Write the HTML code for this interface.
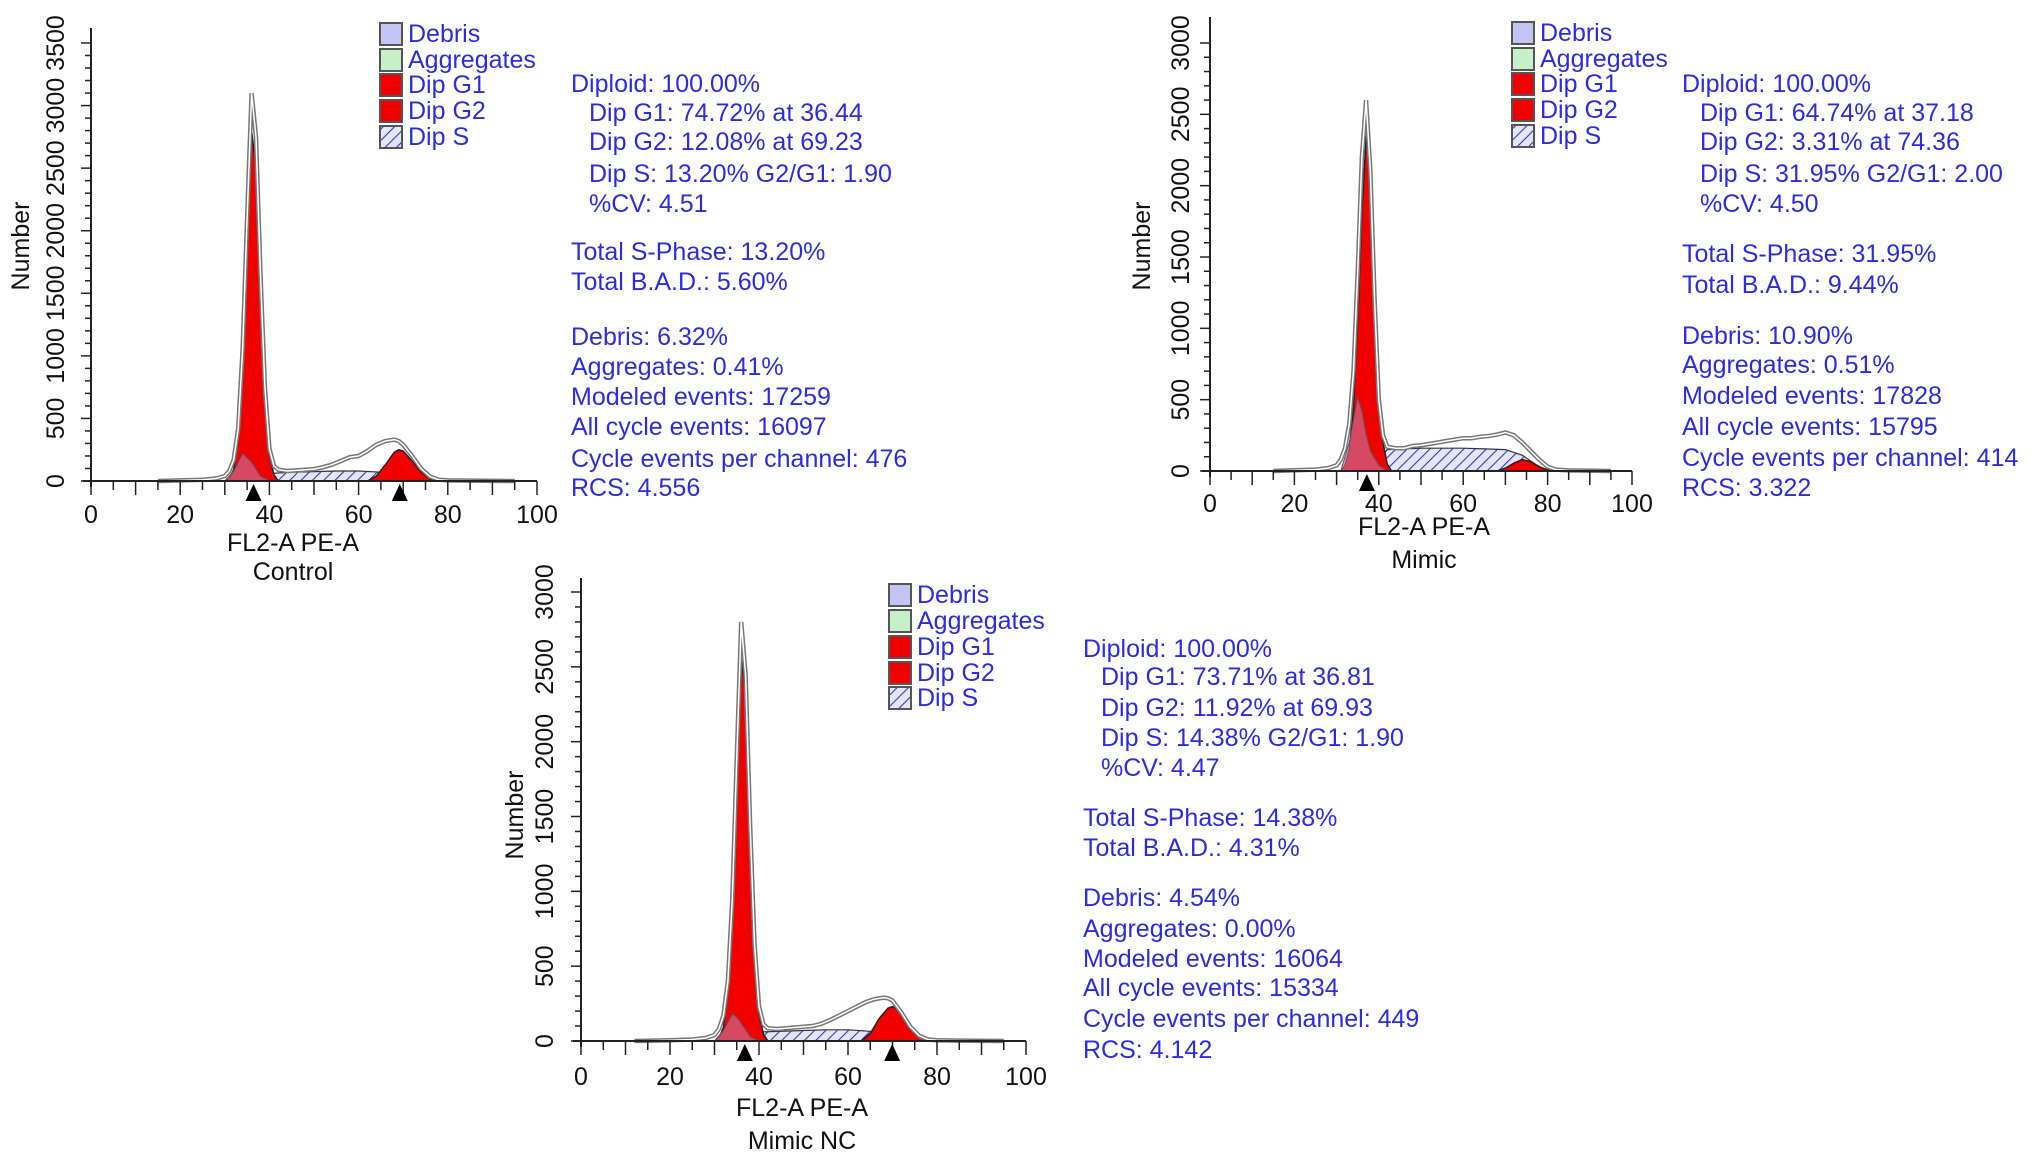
<!DOCTYPE html>
<html><head><meta charset="utf-8">
<style>
html,body{margin:0;padding:0;background:#fff;}
svg{display:block;}
text{font-family:"Liberation Sans",sans-serif;}
.st{fill:#2b2be0;font-size:25px;}
.lg{fill:#2b2be0;font-size:25px;}
.tk{fill:#111;font-size:25px;}
.ax{fill:#111;font-size:25px;}
</style></head>
<body>
<svg id="chart" width="2032" height="1162" viewBox="0 0 2032 1162" xmlns="http://www.w3.org/2000/svg">
<defs>
<pattern id="hatch" patternUnits="userSpaceOnUse" width="8" height="8" patternTransform="rotate(45)">
<rect width="8" height="8" fill="#e4e4fb"/>
<line x1="0" y1="0" x2="0" y2="8" stroke="#3a3ab8" stroke-width="2.2"/>
</pattern>
</defs>
</svg>
<script>
// ---------- data (Control) ----------
const ctrlTotalX = [15,20,25,28,30,31,32,33,34,35,36,37,38,39,40,41,42,44,46,48,50,52,54,56,58,60,62,64,66,68,69,70,72,74,76,78,80,85,95];
const ctrlTotalY = [0,5,10,20,40,80,170,420,1050,2100,3100,2750,1650,750,260,120,90,80,85,90,95,110,130,160,190,200,240,290,320,330,320,290,200,100,35,10,5,3,0];
const ctrlG1X = [30,31,32,33,34,35,36,37,38,39,40,41,42];
const ctrlG1Y = [0,20,90,330,900,1900,2800,2500,1500,650,200,50,0];
const ctrlG2X = [62,64,66,68,69,70,72,74,76,78];
const ctrlG2Y = [0,40,130,230,250,240,160,70,15,0];
const ctrlSX = [36,40,45,50,55,60,65,70,72];
const ctrlSY = [0,60,70,75,80,80,70,20,0];
const ctrlDebX = [30,32,34,36,38,40];
const ctrlDebY = [0,80,220,150,40,0];
const ctrlMarks = [36.44,69.23];
// ---------- data (Mimic) ----------
const mimTotalX = [15,20,25,28,30,31,32,33,34,35,36,37,38,39,40,41,42,44,46,48,50,52,54,56,58,60,62,64,66,68,70,72,74,76,78,80,82,85,95];
const mimTotalY = [0,5,10,20,40,80,160,330,700,1400,2200,2600,2100,1200,500,250,170,160,160,175,180,190,200,210,220,230,230,240,245,255,270,250,200,140,80,30,10,4,0];
const mimG1X = [31,32,33,34,35,36,37,38,39,40,41,42,43];
const mimG1Y = [0,40,150,450,1050,1800,2350,2100,1300,600,200,50,0];
const mimG2X = [68,70,72,74,76,78,80,82];
const mimG2Y = [0,20,55,80,65,30,8,0];
const mimSX = [38,42,46,50,55,60,65,70,74,78,80];
const mimSY = [0,150,155,160,160,160,155,150,110,30,0];
const mimDebX = [31,33,35,36,37,38,40,42];
const mimDebY = [0,200,520,420,260,140,40,0];
const mimMarks = [37.18];
// ---------- data (Mimic NC) ----------
const ncTotalX = [12,20,25,28,30,31,32,33,34,35,36,37,38,39,40,41,42,44,46,48,50,52,54,56,58,60,62,64,66,68,69,70,72,74,76,78,80,85,95];
const ncTotalY = [0,5,10,20,40,80,170,400,950,1900,2800,2450,1450,650,230,110,85,80,85,90,95,100,115,140,170,200,230,260,280,290,285,270,190,95,35,10,5,3,0];
const ncG1X = [30,31,32,33,34,35,36,37,38,39,40,41,42];
const ncG1Y = [0,20,90,320,880,1800,2600,2300,1400,600,180,45,0];
const ncG2X = [63,65,67,69,70,71,73,75,77,79];
const ncG2Y = [0,50,150,220,230,215,140,60,12,0];
const ncSX = [36,40,45,50,55,60,65,70,72];
const ncSY = [0,60,65,70,75,75,65,20,0];
const ncDebX = [30,32,34,35,36,38,40];
const ncDebY = [0,70,180,160,120,30,0];
const ncMarks = [36.81,69.93];

const yTicksCtrl = [0,500,1000,1500,2000,2500,3000,3500];
const yTicks3k = [0,500,1000,1500,2000,2500,3000];
const xTicks = [0,20,40,60,80,100];
const legendLabels = ["Debris","Aggregates","Dip G1","Dip G2","Dip S"];

const ctrlStats = ["Diploid: 100.00%","  Dip G1: 74.72% at 36.44","  Dip G2: 12.08% at 69.23","  Dip S: 13.20% G2/G1: 1.90","  %CV: 4.51","Total S-Phase: 13.20%","Total B.A.D.: 5.60%","Debris: 6.32%","Aggregates: 0.41%","Modeled events: 17259","All cycle events: 16097","Cycle events per channel: 476","RCS: 4.556"];
const mimStats = ["Diploid: 100.00%","  Dip G1: 64.74% at 37.18","  Dip G2: 3.31% at 74.36","  Dip S: 31.95% G2/G1: 2.00","  %CV: 4.50","Total S-Phase: 31.95%","Total B.A.D.: 9.44%","Debris: 10.90%","Aggregates: 0.51%","Modeled events: 17828","All cycle events: 15795","Cycle events per channel: 414","RCS: 3.322"];
const ncStats = ["Diploid: 100.00%","  Dip G1: 73.71% at 36.81","  Dip G2: 11.92% at 69.93","  Dip S: 14.38% G2/G1: 1.90","  %CV: 4.47","Total S-Phase: 14.38%","Total B.A.D.: 4.31%","Debris: 4.54%","Aggregates: 0.00%","Modeled events: 16064","All cycle events: 15334","Cycle events per channel: 449","RCS: 4.142"];

const NS = "http://www.w3.org/2000/svg";
const svg = document.getElementById('chart');
function mk(tag, attrs, parent, txt){
  const e = document.createElementNS(NS, tag);
  for (const k in attrs) e.setAttribute(k, attrs[k]);
  if (txt !== undefined) e.textContent = txt;
  (parent || svg).appendChild(e);
  return e;
}

function panel(cfg){
  const g = mk('g', {});
  
  
  const sx = v => cfg.x0 + (cfg.x1 - cfg.x0) * v / 100;
  const sy = v => cfg.y0 - (cfg.y0 - cfg.yTop) * v / cfg.yMax;
  const pathOf = (xs, ys) => { let d = 'M' + sx(xs[0]) + ',' + sy(0); xs.forEach((x,i)=>{ d += ' L' + sx(x).toFixed(1) + ',' + sy(ys[i]).toFixed(1); }); d += ' L' + sx(xs[xs.length-1]) + ',' + sy(0) + ' Z'; return d; };
  const lineOf = (xs, ys) => xs.map((x,i)=>(i?'L':'M') + sx(x).toFixed(1) + ',' + sy(ys[i]).toFixed(1)).join(' ');

  const s = mk('path', {d: pathOf(cfg.sX, cfg.sY), fill: 'url(#hatch)', stroke: '#333', 'stroke-width': 1.2}, g);
  
  
  const g1 = mk('path', {d: pathOf(cfg.g1X, cfg.g1Y), fill: '#f20000', stroke: '#222', 'stroke-width': 1.5}, g);
  
  
  const g2 = mk('path', {d: pathOf(cfg.g2X, cfg.g2Y), fill: '#f20000', stroke: '#222', 'stroke-width': 1.5}, g);
  
  
  const db = mk('path', {d: pathOf(cfg.debX, cfg.debY), fill: 'rgba(200,110,150,0.65)', stroke: '#555', 'stroke-width': 1}, g);
  
  
  const t1 = mk('path', {d: lineOf(cfg.tX, cfg.tY), fill: 'none', stroke: '#777', 'stroke-width': 4.5}, g);
  
  
  mk('path', {d: lineOf(cfg.tX, cfg.tY), fill: 'none', stroke: '#fff', 'stroke-width': 1.5}, g);

  const ya = mk('line', {x1: cfg.x0, y1: cfg.axTop, x2: cfg.x0, y2: cfg.y0 + 6, stroke: '#222', 'stroke-width': 2}, g);
  
  
  const xa = mk('line', {x1: cfg.x0 - 8, y1: cfg.y0, x2: cfg.x1, y2: cfg.y0, stroke: '#222', 'stroke-width': 2}, g);
  
  
  for (let v = 0; v <= cfg.yMax; v += 100){
    const major = v % 500 === 0;
    mk('line', {x1: cfg.x0 - (major ? 10 : 6), y1: sy(v), x2: cfg.x0, y2: sy(v), stroke: '#222', 'stroke-width': 1.5}, g);
  }
  cfg.yTicks.forEach(v => {
    const t = mk('text', {class: 'tk', x: cfg.ylx, y: sy(v), 'text-anchor': 'middle', 'dominant-baseline': 'central', transform: 'rotate(-90 ' + cfg.ylx + ' ' + sy(v) + ')'}, g, String(v));
    
    
  });
  for (let v = 0; v <= 100; v += 5){
    const major = v % 10 === 0;
    mk('line', {x1: sx(v), y1: cfg.y0, x2: sx(v), y2: cfg.y0 + (major ? 14 : 9), stroke: '#222', 'stroke-width': 1.5}, g);
  }
  xTicks.forEach(v => {
    const t = mk('text', {class: 'tk', x: sx(v), y: cfg.xly, 'text-anchor': 'middle', 'dominant-baseline': 'central'}, g, String(v));
    
    
  });
  cfg.marks.forEach(m => {
    const p = mk('path', {d: 'M' + (sx(m)-8) + ',' + (cfg.y0+20) + ' L' + (sx(m)+8) + ',' + (cfg.y0+20) + ' L' + sx(m) + ',' + (cfg.y0+3) + ' Z', fill: '#000'}, g);
    
    
  });
  const yl = mk('text', {class: 'ax', x: cfg.ytx, y: cfg.yty, 'text-anchor': 'middle', 'dominant-baseline': 'central', transform: 'rotate(-90 ' + cfg.ytx + ' ' + cfg.yty + ')'}, g, 'Number');
  
  
  const xl = mk('text', {class: 'ax', x: cfg.xtx, y: cfg.xty, 'text-anchor': 'middle', 'dominant-baseline': 'central'}, g, 'FL2-A PE-A');
  
  
  const cap = mk('text', {class: 'ax', x: cfg.xtx, y: cfg.capy, 'text-anchor': 'middle', 'dominant-baseline': 'central'}, g, cfg.caption);
  
  

  const fills = ['#c4c4f4', '#c8f0c8', '#f20000', '#f20000', 'url(#hatch)'];
  legendLabels.forEach((lab, i) => {
    const cy = cfg.legY[i];
    const r = mk('rect', {x: cfg.legX, y: cy - 11, width: 22, height: 22, fill: fills[i], stroke: '#555', 'stroke-width': 2}, g);
    
    
    const t = mk('text', {class: 'lg', x: cfg.legX + 28, y: cy, 'dominant-baseline': 'central'}, g, lab);
    
    
  });
  cfg.stats.forEach((s, i) => {
    const indent = s.startsWith('  ');
    const t = mk('text', {class: 'st', x: indent ? cfg.stX + 18 : cfg.stX, y: cfg.stY[i], 'dominant-baseline': 'central'}, g, s.trim());
    
    
  });
}

panel({name: 'control', x0: 91, x1: 537, y0: 481, yTop: 43, yMax: 3500, axTop: 28, yTicks: yTicksCtrl,
  ylx: 56, xly: 515, ytx: 21, yty: 246, xtx: 293, xty: 543, capy: 572, caption: 'Control',
  tX: ctrlTotalX, tY: ctrlTotalY, g1X: ctrlG1X, g1Y: ctrlG1Y, g2X: ctrlG2X, g2Y: ctrlG2Y, sX: ctrlSX, sY: ctrlSY, debX: ctrlDebX, debY: ctrlDebY, marks: ctrlMarks,
  legX: 380, legY: [34,60,85,111,137], stats: ctrlStats, stX: 571,
  stY: [84,113,142,174,204,252,282,337,367,397,427,459,488]});

panel({name: 'mimic', x0: 1210, x1: 1632, y0: 471, yTop: 43, yMax: 3000, axTop: 17, yTicks: yTicks3k,
  ylx: 1181, xly: 504, ytx: 1142, yty: 246, xtx: 1424, xty: 527, capy: 560, caption: 'Mimic',
  tX: mimTotalX, tY: mimTotalY, g1X: mimG1X, g1Y: mimG1Y, g2X: mimG2X, g2Y: mimG2Y, sX: mimSX, sY: mimSY, debX: mimDebX, debY: mimDebY, marks: mimMarks,
  legX: 1512, legY: [33,59,84,110,136], stats: mimStats, stX: 1682,
  stY: [84,113,142,174,204,254,285,336,365,396,427,458,488]});

panel({name: 'mimic-nc', x0: 581, x1: 1026, y0: 1041, yTop: 592, yMax: 3000, axTop: 578, yTicks: yTicks3k,
  ylx: 545, xly: 1077, ytx: 515, yty: 815, xtx: 802, xty: 1108, capy: 1141, caption: 'Mimic NC',
  tX: ncTotalX, tY: ncTotalY, g1X: ncG1X, g1Y: ncG1Y, g2X: ncG2X, g2Y: ncG2Y, sX: ncSX, sY: ncSY, debX: ncDebX, debY: ncDebY, marks: ncMarks,
  legX: 889, legY: [595,621,647,673,698], stats: ncStats, stX: 1083,
  stY: [649,677,708,738,768,818,848,898,929,959,988,1019,1050]});
</script>
</body></html>
